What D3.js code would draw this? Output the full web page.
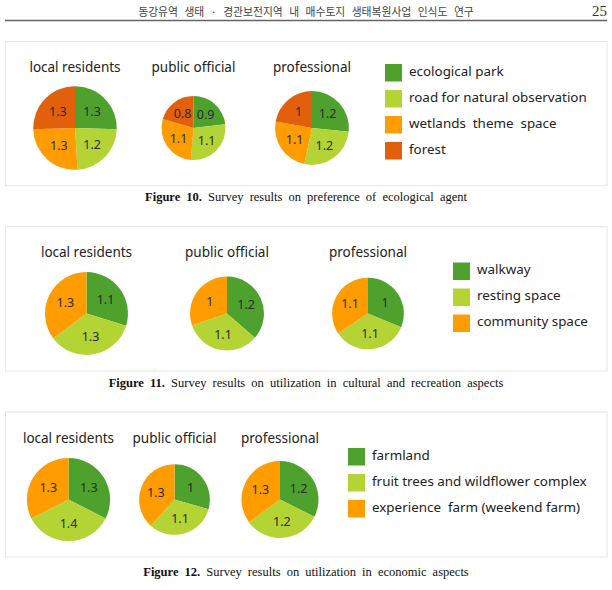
<!DOCTYPE html>
<html>
<head>
<meta charset="utf-8">
<script src="https://cdn.jsdelivr.net/npm/d3@7"></script>
<style>
  html, body { margin: 0; padding: 0; background: #ffffff; }
  svg { display: block; }
</style>
</head>
<body>
<svg id="chart" width="612" height="590"></svg>
<script>
// ---------------- DATA ----------------
const headerText = "동강유역 생태 · 경관보전지역 내 매수토지 생태복원사업 인식도 연구";
const pageNumber = "25";

const groups = ["local residents", "public official", "professional"];

const fig10Categories = ["ecological park", "road for natural observation", "wetlands  theme  space", "forest"];
const fig10Values = [
  [1.3, 1.2, 1.3, 1.3],
  [0.9, 1.1, 1.1, 0.8],
  [1.2, 1.2, 1.1, 1]
];
const fig10CaptionBold = "Figure 10.";
const fig10Caption = "Survey results on preference of ecological agent";

const fig11Categories = ["walkway", "resting space", "community space"];
const fig11Values = [
  [1.1, 1.3, 1.3],
  [1.2, 1.1, 1],
  [1, 1.1, 1.1]
];
const fig11CaptionBold = "Figure 11.";
const fig11Caption = "Survey results on utilization in cultural and recreation aspects";

const fig12Categories = ["farmland", "fruit trees and wildflower complex", "experience  farm (weekend farm)"];
const fig12Values = [
  [1.3, 1.4, 1.3],
  [1, 1.1, 1.3],
  [1.2, 1.2, 1.3]
];
const fig12CaptionBold = "Figure 12.";
const fig12Caption = "Survey results on utilization in economic aspects";

const palette = ["#4fa12e", "#b4d334", "#ff9c00", "#e2600b"];

// ---------------- LAYOUT ----------------
const figures = [
  { cats: fig10Categories, vals: fig10Values, capB: fig10CaptionBold, cap: fig10Caption,
    box: [41.5, 185.7], cx: [75, 193.5, 312], cy: 128, k: 8.2, titleY: 72.3,
    legX: 385, legY: 64, capY: 201 },
  { cats: fig11Categories, vals: fig11Values, capB: fig11CaptionBold, cap: fig11Caption,
    box: [226.7, 371], cx: [86.5, 227, 368], cy: 313.5, k: 11.2, titleY: 257.3,
    legX: 453, legY: 262.5, capY: 387 },
  { cats: fig12Categories, vals: fig12Values, capB: fig12CaptionBold, cap: fig12Caption,
    box: [412, 557], cx: [68.5, 174.5, 280], cy: 499.5, k: 10.4, titleY: 443,
    legX: 348, legY: 448, capY: 576 }
];

const svg = d3.select("#chart");

// Header
svg.append("text")
  .attr("x", 306).attr("y", 16)
  .attr("text-anchor", "middle")
  .style("font-family", "'Noto Sans CJK KR', sans-serif")
  .style("font-size", "10.8px")
  .style("word-spacing", "4px")
  .style("fill", "#444")
  .text(headerText);
svg.append("text")
  .attr("x", 607).attr("y", 16)
  .attr("text-anchor", "end")
  .style("font-family", "'Liberation Serif', serif")
  .style("font-size", "15px")
  .style("fill", "#333")
  .text(pageNumber);
svg.append("line")
  .attr("x1", 5).attr("x2", 607).attr("y1", 20.5).attr("y2", 20.5)
  .attr("stroke", "#666").attr("stroke-width", 1.6);

const pie = d3.pie().sort(null).value(d => d);
const color = d3.scaleOrdinal().range(palette);

figures.forEach(fig => {
  const g = svg.append("g");
  // panel box
  g.append("rect")
    .attr("x", 5.5).attr("y", fig.box[0])
    .attr("width", 601.5).attr("height", fig.box[1] - fig.box[0])
    .attr("fill", "#fff").attr("stroke", "#e6e6e6").attr("stroke-width", 1);

  color.domain(fig.cats);
  const totals = fig.vals.map(v => d3.sum(v));
  const rScale = d3.scaleLinear().domain([0, 1]).range([0, fig.k]);

  groups.forEach((name, i) => {
    const r = rScale(totals[i]);
    const pg = g.append("g").attr("transform", `translate(${fig.cx[i]},${fig.cy})`);
    const arc = d3.arc().innerRadius(0).outerRadius(r);
    const labelArc = d3.arc().innerRadius(r * 0.57).outerRadius(r * 0.57);
    const arcs = pie(fig.vals[i]);
    pg.selectAll("path").data(arcs).join("path")
      .attr("d", arc)
      .attr("fill", (d, j) => color(fig.cats[j]));
    pg.selectAll("text.lbl").data(arcs).join("text")
      .attr("class", "lbl")
      .attr("transform", d => `translate(${labelArc.centroid(d)})`)
      .attr("text-anchor", "middle")
      .attr("dy", "0.36em")
      .style("font-family", "'Noto Sans', sans-serif")
      .style("font-size", "12.5px")
      .style("fill", "#2a2a2a")
      .text(d => d.data);
    g.append("text")
      .attr("x", fig.cx[i]).attr("y", fig.titleY)
      .attr("text-anchor", "middle")
      .style("font-family", "'Noto Sans', sans-serif")
      .style("font-size", "13.5px")
      .style("fill", "#222")
      .text(name);
  });

  // legend
  const leg = g.append("g");
  fig.cats.forEach((c, j) => {
    const y = fig.legY + j * 26;
    leg.append("rect")
      .attr("x", fig.legX).attr("y", y)
      .attr("width", 17).attr("height", 17.5)
      .attr("fill", color(c));
    leg.append("text")
      .attr("x", fig.legX + 24).attr("y", y + 11.5)
      .style("font-family", "'Noto Sans', sans-serif")
      .style("font-size", "13.4px")
      .style("fill", "#222")
      .style("white-space", "pre")
      .attr("xml:space", "preserve")
      .text(c);
  });

  // caption
  const cap = svg.append("text")
    .attr("x", 306).attr("y", fig.capY)
    .attr("text-anchor", "middle")
    .style("font-family", "'Liberation Serif', serif")
    .style("font-size", "12.5px")
    .style("word-spacing", "3px")
    .style("fill", "#111");
  cap.append("tspan").style("font-weight", "bold").text(fig.capB);
  cap.append("tspan").text(" " + fig.cap);
});
</script>
</body>
</html>
